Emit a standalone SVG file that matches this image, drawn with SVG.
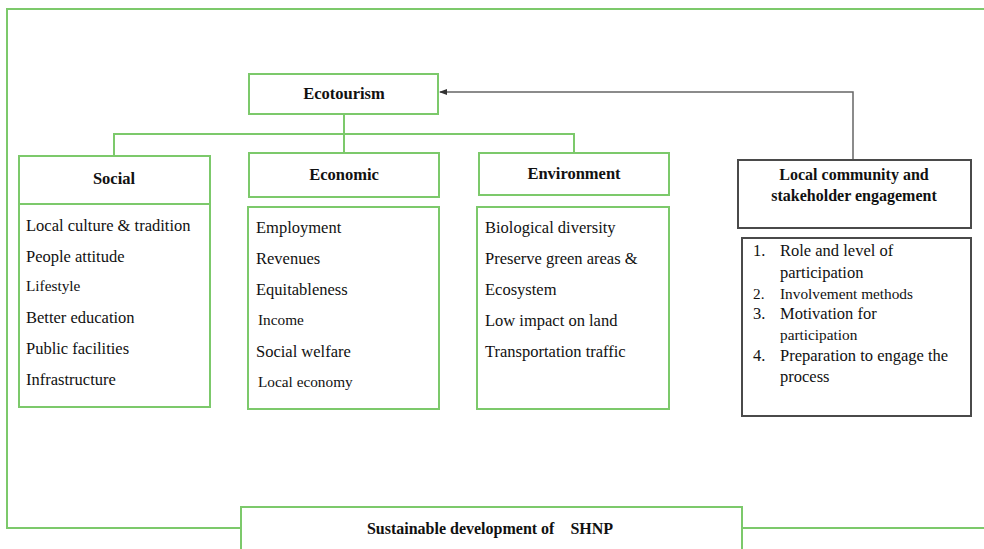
<svg xmlns="http://www.w3.org/2000/svg" width="984" height="549" viewBox="0 0 984 549">
<style>
.g{fill:#fff;stroke:#7cc96b;stroke-width:2}
.d{fill:#fff;stroke:#4a4a4a;stroke-width:2}
.ln{fill:none;stroke:#7cc96b;stroke-width:2}
.ar{fill:none;stroke:#666;stroke-width:1.5}
text{font-family:"Liberation Serif","Times New Roman",serif;fill:#111}
.h{font-weight:bold;font-size:16.5px;text-anchor:middle}
.t{font-size:16.5px}
.s{font-size:15.3px}
</style>
<defs>
<marker id="ah" markerWidth="8" markerHeight="8" refX="7" refY="4" orient="auto" markerUnits="userSpaceOnUse">
<path d="M0,1 L8,4 L0,7 Z" fill="#333"/>
</marker>
</defs>
<g id="connectors">
<path class="ln" d="M984,9 H7 V528 H242 M742,528 H984"/>
<path class="ln" d="M344,114 V134 M114,156 V134 H574 V153 M344,134 V153"/>
<path class="ar" d="M853,160 V92 H440" marker-end="url(#ah)"/>
</g>
<g id="ecotourism">
<rect class="g" x="249" y="74" width="189" height="40"/>
<text class="h" x="344" y="99">Ecotourism</text>
</g>
<g id="social">
<rect class="g" x="19" y="156" width="191" height="48"/>
<text class="h" x="114" y="184">Social</text>
<rect class="g" x="19" y="204" width="191" height="203"/>
<text class="t" x="26" y="231">Local culture &amp; tradition</text>
<text class="t" x="26" y="262">People attitude</text>
<text class="s" x="26" y="291">Lifestyle</text>
<text class="t" x="26" y="323">Better education</text>
<text class="t" x="26" y="354">Public facilities</text>
<text class="t" x="26" y="385">Infrastructure</text>
</g>
<g id="economic">
<rect class="g" x="249" y="153" width="190" height="44"/>
<text class="h" x="344" y="180">Economic</text>
<rect class="g" x="248" y="207" width="191" height="202"/>
<text class="t" x="256" y="233">Employment</text>
<text class="t" x="256" y="264">Revenues</text>
<text class="t" x="256" y="295">Equitableness</text>
<text class="s" x="258" y="325">Income</text>
<text class="t" x="256" y="357">Social welfare</text>
<text class="s" x="258" y="387">Local economy</text>
</g>
<g id="environment">
<rect class="g" x="479" y="153" width="190" height="42"/>
<text class="h" x="574" y="179">Environment</text>
<rect class="g" x="477" y="207" width="192" height="202"/>
<text class="t" x="485" y="233">Biological diversity</text>
<text class="t" x="485" y="264">Preserve green areas &amp;</text>
<text class="t" x="485" y="295">Ecosystem</text>
<text class="t" x="485" y="326">Low impact on land</text>
<text class="t" x="485" y="357">Transportation traffic</text>
</g>
<g id="community">
<rect class="d" x="738" y="160" width="233" height="68"/>
<text class="h" x="854" y="180" style="font-size:16px">Local community and</text>
<text class="h" x="854" y="201" style="font-size:16px">stakeholder engagement</text>
</g>
<g id="engagement-list">
<rect class="d" x="742" y="238" width="229" height="178"/>
<text class="t" x="753" y="256">1.</text>
<text class="t" x="780" y="256">Role and level of</text>
<text class="t" x="780" y="278">participation</text>
<text class="s" x="753" y="299">2.</text>
<text class="s" x="780" y="299">Involvement methods</text>
<text class="t" x="753" y="319">3.</text>
<text class="t" x="780" y="319">Motivation for</text>
<text class="s" x="780" y="340">participation</text>
<text class="t" x="753" y="361">4.</text>
<text class="t" x="780" y="361">Preparation to engage the</text>
<text class="t" x="780" y="382">process</text>
</g>
<g id="sustainable">
<rect class="g" x="241" y="507" width="501" height="50"/>
<text class="h" x="490" y="534" style="font-size:16px" xml:space="preserve">Sustainable development of    SHNP</text>
</g>
</svg>
